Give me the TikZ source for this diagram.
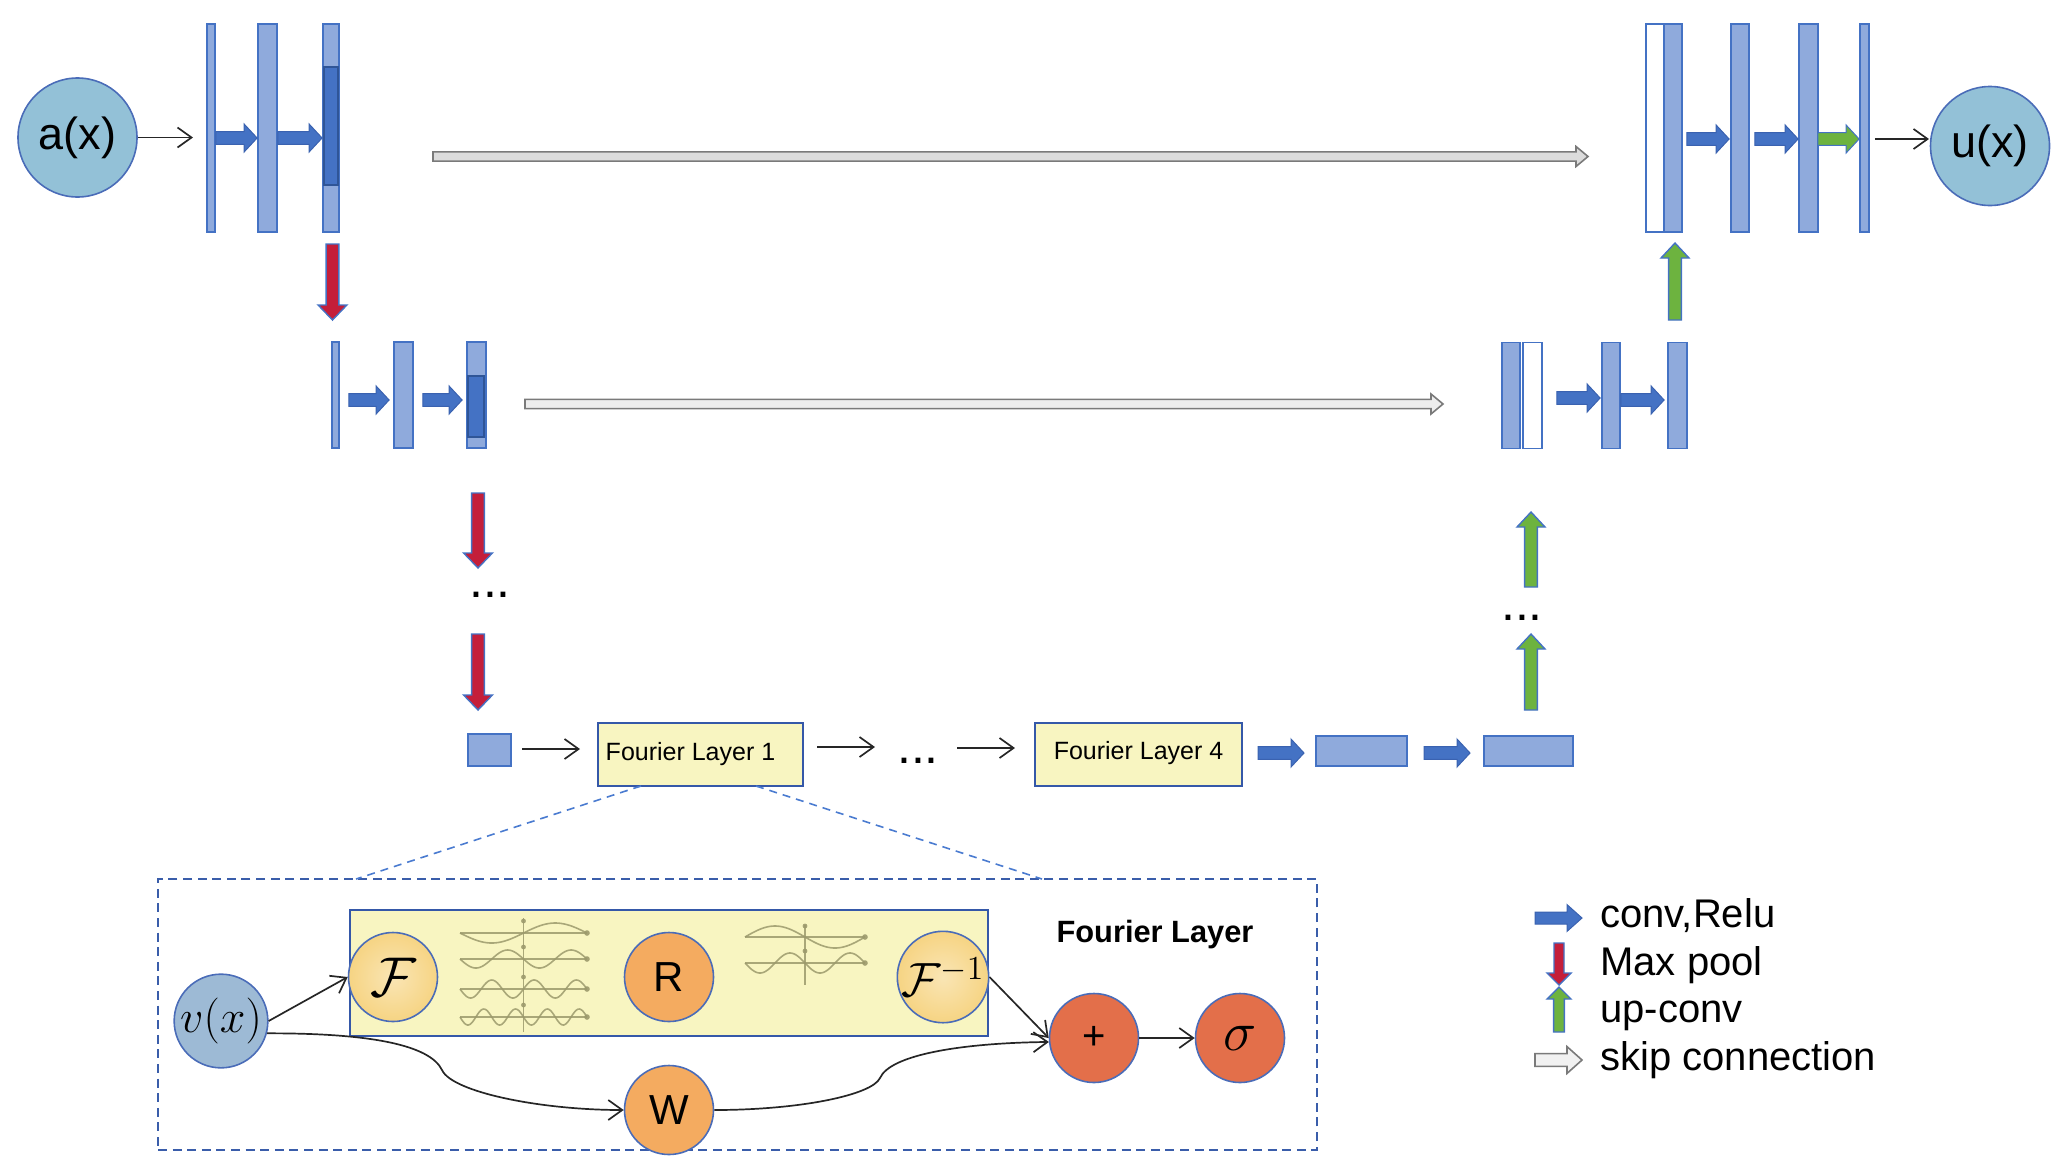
\RequirePackage{fix-cm}
\documentclass[tikz,border=0pt]{standalone}
\usepackage{fontspec}
\setmainfont{Liberation Sans}
\usetikzlibrary{calc,arrows.meta}

\definecolor{barfill}{HTML}{8FAADC}
\definecolor{barline}{HTML}{4472C4}
\definecolor{bardark}{HTML}{4472C4}
\definecolor{bardarkline}{HTML}{2F5597}
\definecolor{arrblue}{HTML}{4472C4}
\definecolor{arrblueline}{HTML}{3A62B0}
\definecolor{arrred}{HTML}{C41E3A}
\definecolor{arrgreen}{HTML}{6DB33F}
\definecolor{skipfill}{HTML}{DCDCDC}
\definecolor{skipline}{HTML}{7A7A7A}
\definecolor{iofill}{HTML}{93C1D7}
\definecolor{ioline}{HTML}{4A6CB8}
\definecolor{vfill}{HTML}{9DBAD5}
\definecolor{ffill}{HTML}{F6D483}
\definecolor{rfill}{HTML}{F4AB60}
\definecolor{pfill}{HTML}{E36F4A}
\definecolor{ylw}{HTML}{F8F5C1}
\definecolor{ylwline}{HTML}{3558A8}
\definecolor{wavec}{HTML}{9C9A6C}
\definecolor{dashc}{HTML}{3A5DAA}
\definecolor{dashlt}{HTML}{4A7BD0}

\begin{document}
\begin{tikzpicture}[x=0.5pt,y=-0.5pt,
  topbar/.style={draw=barline, fill=barfill, line width=0.9pt, inner sep=0pt, minimum height=104pt},
  midbar/.style={draw=barline, fill=barfill, line width=0.9pt, inner sep=0pt, minimum height=53pt},
  darkpart/.style={draw=bardarkline, fill=bardark, line width=0.7pt, inner sep=0pt},
  flat/.style={draw=barline, fill=barfill, line width=0.9pt, inner sep=0pt},
  flbox/.style={draw=ylwline, fill=ylw, line width=1.1pt, inner sep=0pt, minimum height=31.5pt, font=\fontsize{12.5}{15}\selectfont},
  iocirc/.style={circle, draw=ioline, fill=iofill, line width=0.8pt, inner sep=0pt, minimum size=59.5pt, font=\fontsize{22.5}{26}\selectfont},
  fcirc/.style={circle, draw=ioline, line width=0.8pt, inner sep=0pt, minimum size=44.5pt},
  dotstyle/.style={inner sep=0pt, font=\fontsize{25}{28}\selectfont},
  legtext/.style={anchor=base west, inner sep=0pt, font=\fontsize{20}{24}\selectfont},
  blockarrow/.style n args={3}{to path={let \p1=(\tikztostart), \p2=(\tikztotarget), \p3=($(\p2)!#3!(\p1)$) in
     ($(\p1)!#1!90:(\p2)$) -- ($(\p3)!#1!90:(\p2)$) -- ($(\p3)!#2!90:(\p2)$) -- (\p2)
     -- ($(\p3)!#2!-90:(\p2)$) -- ($(\p3)!#1!-90:(\p2)$) -- ($(\p1)!#1!-90:(\p2)$) -- cycle}},
  convarr/.style={blockarrow={3.2pt}{7pt}{6.5pt}, draw=arrblueline, fill=arrblue, line width=0.5pt},
  greenarr/.style={blockarrow={3.2pt}{7pt}{6.5pt}, draw=barline, fill=arrgreen, line width=0.5pt},
  poolarr/.style={blockarrow={3.2pt}{7.2pt}{7.5pt}, draw=barline, fill=arrred, line width=0.7pt},
  uparr/.style={blockarrow={3.2pt}{7pt}{7.5pt}, draw=barline, fill=arrgreen, line width=0.7pt},
  skiparr/.style={blockarrow={2.3pt}{5pt}{6pt}, draw=skipline, fill=skipfill, line width=0.8pt},
  thinarr/.style={draw=black!85, line width=0.85pt, -{Straight Barb[length=7pt,width=10pt,line width=0.85pt]}},
  wavecurve/.style={draw=wavec, line width=0.8pt, opacity=0.85},
  waveaxis/.style={draw=wavec, line width=0.6pt, opacity=0.85},
]
\useasboundingbox (0,0) rectangle (2070,1173);

% ---------- input / output ----------
\node[iocirc] (ax) at (77.5,137.5) {a(x)};
\node[iocirc] (ux) at (1990,146) {u(x)};

% ---------- encoder level 1 ----------
\node[topbar, minimum width=4pt] (b1) at (211,128) {};
\node[topbar, minimum width=9.5pt] (b2) at (267.5,128) {};
\node[topbar, minimum width=8pt] (b3) at (331,128) {};
\node[darkpart, minimum width=7pt, minimum height=59pt] (b3d) at (331,126) {};

% ---------- encoder level 2 ----------
\node[midbar, minimum width=3.5pt] (c1) at (335.5,395) {};
\node[midbar, minimum width=9.5pt] (c2) at (403.5,395) {};
\node[midbar, minimum width=9.5pt] (c3) at (476.5,395) {};
\node[darkpart, minimum width=8pt, minimum height=30.5pt] (c3d) at (476,406.5) {};

% ---------- decoder level 1 ----------
\node[topbar, fill=white, minimum width=9pt] (w1) at (1655,128) {};
\node[topbar, minimum width=9pt] (d1) at (1673,128) {};
\node[topbar, minimum width=9pt] (d2) at (1740,128) {};
\node[topbar, minimum width=9.5pt] (d3) at (1808.5,128) {};
\node[topbar, minimum width=4.5pt] (d4) at (1864.5,128) {};

% ---------- decoder level 2 ----------
\node[midbar, minimum width=9pt] (e1) at (1511,395.5) {};
\node[midbar, fill=white, minimum width=9.5pt] (e2) at (1532.5,395.5) {};
\node[midbar, minimum width=9pt] (e3) at (1611,395.5) {};
\node[midbar, minimum width=9.5pt] (e4) at (1677.5,395.5) {};

% ---------- bottleneck row ----------
\node[flat, minimum width=21.5pt, minimum height=16pt] (s0) at (489.5,750) {};
\node[flbox, minimum width=102.5pt] (fl1) at (700.5,754.5) {\hspace*{-10pt}Fourier Layer 1};
\node[flbox, minimum width=103.5pt] (fl4) at (1138.5,754.5) {\raisebox{4pt}{Fourier Layer 4}};
\node[flat, minimum width=45.5pt, minimum height=15pt] (r1) at (1361.5,751) {};
\node[flat, minimum width=44.5pt, minimum height=15pt] (r2) at (1528.5,751) {};

\node[dotstyle] (dt1) at (490,595) {...};
\node[dotstyle] (dt2) at (918,761) {...};
\node[dotstyle] (dt3) at (1522,618) {...};

% ---------- coordinates of arrow ends ----------
\coordinate (a1) at (193,137.5);
\coordinate (t1s) at ($(b1.east)+(0,10)$);   \coordinate (t1e) at ($(b2.west)+(0,10)$);
\coordinate (t2s) at ($(b2.east)+(0,10)$);   \coordinate (t2e) at ($(b3.west)+(0,10)$);
\coordinate (t3s) at ($(d1.east)+(4,11)$);   \coordinate (t3e) at ($(d2.west)+(-1,11)$);
\coordinate (t4s) at ($(d2.east)+(5,11)$);   \coordinate (t4e) at ($(d3.west)+(0,11)$);
\coordinate (t5s) at ($(d3.east)+(-1,11)$);  \coordinate (t5e) at ($(d4.west)+(0,11)$);
\coordinate (t6s) at ($(d4.east)+(5,11)$);   \coordinate (t6e) at (1929,139);
\coordinate (m1s) at ($(c1.east)+(9,5)$);    \coordinate (m1e) at ($(c2.west)+(-4,5)$);
\coordinate (m2s) at ($(c2.east)+(9,5)$);    \coordinate (m2e) at ($(c3.west)+(-4,5)$);
\coordinate (m3s) at ($(e2.east)+(14,2.5)$); \coordinate (m3e) at ($(e3.west)+(-1,2.5)$);
\coordinate (m4s) at ($(e3.east)+(0,4.5)$);  \coordinate (m4e) at ($(e4.west)+(-3,4.5)$);
\coordinate (p1s) at (332.5,244); \coordinate (p1e) at (332.5,320);
\coordinate (p2s) at (478,493);   \coordinate (p2e) at (478,568);
\coordinate (p3s) at (478,634);   \coordinate (p3e) at (478,710);
\coordinate (u1s) at (1531,710);  \coordinate (u1e) at (1531,634);
\coordinate (u2s) at (1531,587);  \coordinate (u2e) at (1531,512);
\coordinate (u3s) at (1675,320);  \coordinate (u3e) at (1675,243);
\coordinate (k1s) at (433,156.5); \coordinate (k1e) at (1588,156.5);
\coordinate (k2s) at (525,404);   \coordinate (k2e) at (1443,404);
\coordinate (h1s) at (522,749);   \coordinate (h1e) at (580,749);
\coordinate (h2s) at (817,747);   \coordinate (h2e) at (875,747);
\coordinate (h3s) at (957,748);   \coordinate (h3e) at (1015,748);
\coordinate (q1s) at (1258,753);  \coordinate (q1e) at (1304,753);
\coordinate (q2s) at (1424,753);  \coordinate (q2e) at (1470,753);

% ---------- connectors ----------
\draw[thinarr] (ax.east) -- (a1);
\draw[convarr] (t1s) to (t1e);
\draw[convarr] (t2s) to (t2e);
\draw[convarr] (t3s) to (t3e);
\draw[convarr] (t4s) to (t4e);
\draw[greenarr] (t5s) to (t5e);
\draw[thinarr] (t6s) -- (t6e);
\draw[convarr] (m1s) to (m1e);
\draw[convarr] (m2s) to (m2e);
\draw[convarr] (m3s) to (m3e);
\draw[convarr] (m4s) to (m4e);
\draw[poolarr] (p1s) to (p1e);
\draw[poolarr] (p2s) to (p2e);
\draw[poolarr] (p3s) to (p3e);
\draw[uparr] (u1s) to (u1e);
\draw[uparr] (u2s) to (u2e);
\draw[uparr] (u3s) to (u3e);
\draw[skiparr] (k1s) to (k1e);
\draw[skiparr, fill=skipfill!50!white] (k2s) to (k2e);
\draw[thinarr] (h1s) -- (h1e);
\draw[thinarr] (h2s) -- (h2e);
\draw[thinarr] (h3s) -- (h3e);
\draw[convarr] (q1s) to (q1e);
\draw[convarr] (q2s) to (q2e);

% ---------- Fourier layer detail ----------
\node[draw=dashc, line width=0.9pt, dash pattern=on 4.5pt off 2.8pt, inner sep=0pt,
      minimum width=579.5pt, minimum height=135.5pt] (panel) at (737.5,1014.5) {};
\coordinate (dl1s) at (641,786); \coordinate (dl1e) at (356,879);
\coordinate (dl2s) at (756,786); \coordinate (dl2e) at (1042,879);
\draw[dashlt, line width=0.8pt, dash pattern=on 4pt off 3pt] (dl1s) -- (dl1e);
\draw[dashlt, line width=0.8pt, dash pattern=on 4pt off 3pt] (dl2s) -- (dl2e);

\node[draw=ylwline, fill=ylw, line width=1pt, inner sep=0pt, minimum width=319pt, minimum height=63pt] (spec) at (669,973) {};

% waves, block 1
\draw[waveaxis] (523.5,918) -- (523.5,1032);
\foreach \ay/\k/\am in {933/1/10, 959/2/9, 989/3/9, 1017/4/8} {
  \draw[waveaxis] (460,\ay) -- (587,\ay);
  \fill[wavec, opacity=0.9] (587,\ay) circle (1.4pt);
  \fill[wavec, opacity=0.9] (523.5,\ay-12) circle (1.2pt);
  \draw[wavecurve] plot[domain=0:1, samples=120, smooth] ({460+127*\x},{\ay+\am*sin(360*\k*\x)});
}
% waves, block 2
\draw[waveaxis] (805,925) -- (805,985);
\draw[waveaxis] (745,937) -- (865,937);
\draw[waveaxis] (745,963) -- (865,963);
\fill[wavec, opacity=0.9] (865,937) circle (1.4pt);
\fill[wavec, opacity=0.9] (865,963) circle (1.4pt);
\fill[wavec, opacity=0.9] (805,926) circle (1.2pt);
\fill[wavec, opacity=0.9] (805,951) circle (1.2pt);
\draw[wavecurve] plot[domain=0:1, samples=120, smooth] ({745+120*\x},{937-11*sin(360*\x)});
\draw[wavecurve] plot[domain=0:1, samples=120, smooth] ({745+120*\x},{963+10*sin(720*\x)});

\node[fcirc, fill=vfill, font=\fontsize{23}{26}\selectfont] (vx) at (221,1021) {$v(x)$};
\node[fcirc, inner color=ffill!60!white, outer color=ffill, font=\fontsize{28}{30}\selectfont] (F) at (393,977) {$\mathcal{F}$};
\node[fcirc, fill=rfill, font=\fontsize{21}{24}\selectfont] (R) at (669,977) {R};
\node[fcirc, inner color=ffill!60!white, outer color=ffill, font=\fontsize{24}{26}\selectfont] (Fi) at (943,977) {$\mathcal{F}^{-1}$};
\node[fcirc, fill=rfill, font=\fontsize{21}{24}\selectfont] (W) at (669,1110) {W};
\node[fcirc, fill=pfill, font=\fontsize{20}{24}\selectfont] (plus) at (1094,1038) {+};
\node[fcirc, fill=pfill, font=\fontsize{28}{30}\selectfont] (sig) at (1240,1038) {$\sigma$};
\node[anchor=base, inner sep=0pt, font=\fontsize{15.4}{18}\selectfont\bfseries] (flt) at (1155,942) {Fourier Layer};

\draw[thinarr] (vx.east) -- (F.west);
\draw[thinarr] (vx.-15) .. controls (370,1033) and (430,1045) .. (442,1070)
                        .. controls (452,1092) and (540,1110) .. (W.west);
\draw[thinarr] (W.east) .. controls (800,1110) and (872,1095) .. (880,1078)
                        .. controls (890,1055) and (960,1043) .. (plus.185);
\draw[thinarr] (Fi.east) -- (plus.west);
\draw[thinarr] (plus.east) -- (sig.west);

% ---------- legend ----------
\coordinate (lg1s) at (1535,918);  \coordinate (lg1e) at (1582,918);
\coordinate (lg2s) at (1559,943);  \coordinate (lg2e) at (1559,985);
\coordinate (lg3s) at (1559,1032); \coordinate (lg3e) at (1559,987);
\coordinate (lg4s) at (1535,1060); \coordinate (lg4e) at (1582,1060);
\draw[convarr, blockarrow={3pt}{6.7pt}{7.5pt}] (lg1s) to (lg1e);
\draw[poolarr, blockarrow={2.5pt}{6pt}{6pt}] (lg2s) to (lg2e);
\draw[uparr, blockarrow={2.7pt}{6pt}{6pt}] (lg3s) to (lg3e);
\draw[skiparr, fill=skipfill!40!white, blockarrow={3.2pt}{6.7pt}{7.5pt}] (lg4s) to (lg4e);
\node[legtext] (lt1) at (1600,927) {conv,Relu};
\node[legtext] (lt2) at (1600,975) {Max pool};
\node[legtext] (lt3) at (1600,1022) {up-conv};
\node[legtext] (lt4) at (1600,1070) {skip connection};
\end{tikzpicture}
\end{document}
